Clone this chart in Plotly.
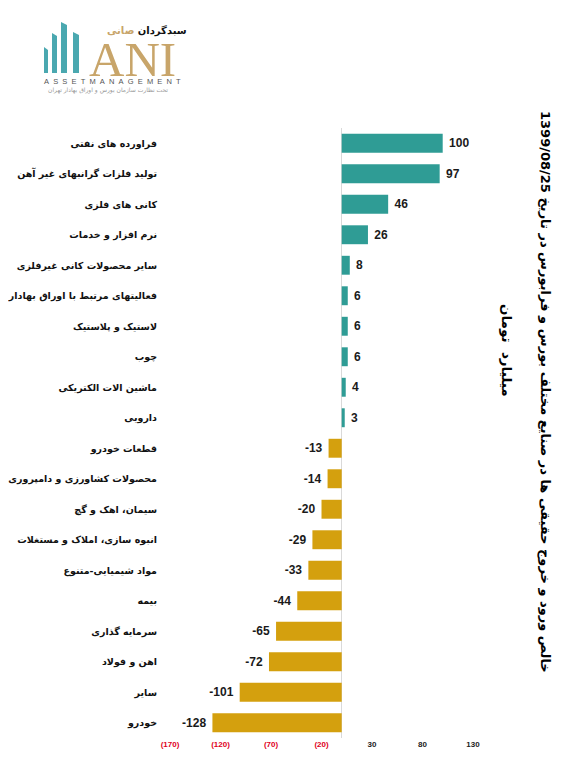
import plotly.graph_objects as go

# industries, top to bottom as in the chart
industries = [
    "فراورده های نفتی",
    "تولید فلزات گرانبهای غیر آهن",
    "کانی های فلزی",
    "نرم افزار و خدمات",
    "سایر محصولات کانی غیرفلزی",
    "فعالیتهای مرتبط با اوراق بهادار",
    "لاستیک و پلاستیک",
    "چوب",
    "ماشین الات الکتریکی",
    "دارویی",
    "قطعات خودرو",
    "محصولات کشاورزی و دامپروری",
    "سیمان، اهک و گچ",
    "انبوه سازی، املاک و مستغلات",
    "مواد شیمیایی-متنوع",
    "بیمه",
    "سرمایه گذاری",
    "اهن و فولاد",
    "سایر",
    "خودرو",
]
net_flow = [100, 97, 46, 26, 8, 6, 6, 6, 4, 3,
            -13, -14, -20, -29, -33, -44, -65, -72, -101, -128]

tick_vals = [-170, -120, -70, -20, 30, 80, 130]

TEAL = "#2F9C95"
GOLD = "#D4A00E"
LOGO_TEAL = "#4AA8B0"
LOGO_GOLD = "#C8A56A"

# page is offset by the body margin (8px), so the figure is a bit smaller
W, H = 563, 773
ML, MR, MT, MB = 162, 98, 120, 43
PW, PH = W - ML - MR, H - MT - MB


def px(x):
    # screen x (reference pixels) -> paper x
    return (x - 8 - ML) / PW


def py(y):
    # screen y (reference pixels) -> paper y
    return (H - MB - (y - 8)) / PH


bar_colors = [TEAL if v >= 0 else GOLD for v in net_flow]
bar_text = [f"\u00a0{v}" if v >= 0 else f"{v}\u00a0" for v in net_flow]
tick_text = []
for t in tick_vals:
    if t < 0:
        tick_text.append(f'<span style="color:#E0001B">({abs(t)})</span>')
    else:
        tick_text.append(str(t))

fig = go.Figure()
fig.add_trace(go.Bar(
    x=net_flow,
    y=industries,
    orientation="h",
    marker=dict(color=bar_colors, line=dict(width=0)),
    text=bar_text,
    textposition="outside",
    textfont=dict(family="Liberation Sans", size=12, color="#1a1a1a", weight="bold"),
    cliponaxis=False,
    hoverinfo="skip",
))

fig.update_xaxes(
    range=[-170, 130],
    tickvals=tick_vals,
    ticktext=tick_text,
    tickfont=dict(family="Liberation Sans", size=8, color="#222", weight="bold"),
    showgrid=False,
    zeroline=True,
    zerolinecolor="#D9D9D9",
    zerolinewidth=1,
    showline=False,
    ticks="",
    automargin=False,
)
fig.update_yaxes(
    autorange="reversed",
    tickfont=dict(family="DejaVu Sans", size=9.5, color="#111", weight="bold"),
    showgrid=False,
    ticks="",
    ticklabelstandoff=12,
    automargin=False,
)

# rotated title and unit on the right
fig.add_annotation(
    text="<b>خالص ورود و خروج حقیقی ها در صنایع مختلف بورس و فرابورس در تاریخ 1399/08/25</b>",
    xref="paper", yref="paper", x=px(545), y=py(392),
    xanchor="center", yanchor="middle",
    textangle=90, showarrow=False,
    font=dict(family="DejaVu Sans", size=13, color="#000"),
)
fig.add_annotation(
    text="<b>میلیارد\u00a0\u00a0تومان</b>",
    xref="paper", yref="paper", x=px(507), y=py(350),
    xanchor="center", yanchor="middle",
    textangle=90, showarrow=False,
    font=dict(family="DejaVu Sans", size=13.5, color="#000"),
)

# logo (top-left): teal columns, gold ANI, company name
logo_cols = [
    (44, 48, 47),
    (52, 57, 33),
    (61, 67, 22),
    (73, 79, 32),
]
for x0, x1, top in logo_cols:
    fig.add_shape(
        type="path",
        xref="paper", yref="paper",
        path=f"M {px(x0)} {py(73)} L {px(x1)} {py(73)} L {px(x1)} {py(top + 3)} "
             f"L {px(x0)} {py(top)} Z",
        fillcolor=LOGO_TEAL, line=dict(width=0), layer="above",
    )
fig.add_annotation(
    text="ANI", xref="paper", yref="paper",
    x=px(132), y=py(59), xanchor="center", yanchor="middle", showarrow=False,
    font=dict(family="Liberation Serif", size=49, color=LOGO_GOLD),
)
fig.add_annotation(
    text=f"سبدگردان <span style='color:{LOGO_GOLD}'>صانی</span>",
    xref="paper", yref="paper",
    x=px(147), y=py(30), xanchor="center", yanchor="middle", showarrow=False,
    font=dict(family="DejaVu Sans", size=10, color="#111", weight="bold"),
)
fig.add_annotation(
    text="\u00a0\u00a0".join("ASSETMANAGEMENT"),
    xref="paper", yref="paper",
    x=px(112), y=py(81), xanchor="center", yanchor="middle", showarrow=False,
    font=dict(family="Liberation Sans", size=7.5, color="#555"),
)
fig.add_annotation(
    text="تحت نظارت سازمان بورس و اوراق بهادار تهران",
    xref="paper", yref="paper",
    x=px(108), y=py(90), xanchor="center", yanchor="middle", showarrow=False,
    font=dict(family="DejaVu Sans", size=6, color="#999"),
)

fig.update_layout(
    width=W,
    height=H,
    margin=dict(l=ML, r=MR, t=MT, b=MB),
    plot_bgcolor="white",
    paper_bgcolor="white",
    bargap=0.38,
    showlegend=False,
)

fig.write_html("out.html")
